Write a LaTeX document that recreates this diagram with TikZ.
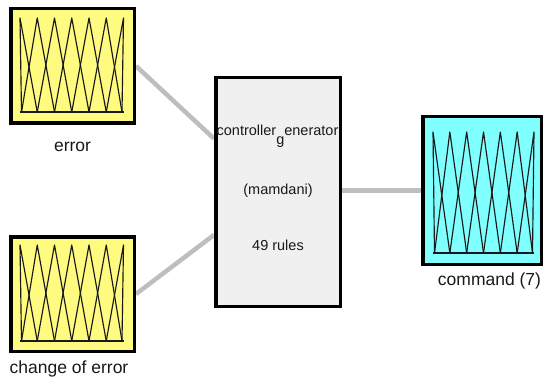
\documentclass[tikz,border=0pt]{standalone}
\usepackage{fontspec}
\setmainfont{Liberation Sans}
\usetikzlibrary{calc,backgrounds}

\definecolor{inyellow}{RGB}{255,250,128}
\definecolor{outcyan}{RGB}{128,255,255}
\definecolor{rulegray}{RGB}{240,240,240}
\definecolor{linkgray}{RGB}{190,190,190}
\definecolor{txtdark}{RGB}{25,25,25}

% Seven triangular membership functions between two peak positions
% #1 first peak x, #2 last peak x, #3 peak y, #4 base y
\newcommand{\mffan}[4]{%
  \pgfmathsetmacro{\mfstep}{(#2-#1)/6}
  \draw[mfline] (#1,#4) -- (#2,#4);
  \foreach \i in {0,...,6} {
    \pgfmathsetmacro{\px}{#1+\i*\mfstep}
    \pgfmathsetmacro{\lx}{max(#1+1.5,\px-\mfstep)}
    \pgfmathsetmacro{\rx}{min(#2-1.5,\px+\mfstep)}
    \draw[mfline] (\lx,#4) -- (\px,#3) -- (\rx,#4);
  }
}

\begin{document}
\begin{tikzpicture}[x=1pt,y=-1pt,
  fisbox/.style={draw=black, line width=3.5pt, inner sep=0pt},
  mfline/.style={draw=black!90, line width=1.15pt, line join=round},
  link/.style={draw=linkgray, line width=4.5pt},
  lab/.style={anchor=base, inner sep=0pt, text=txtdark,
    font=\fontsize{17.5}{20}\selectfont},
  midtxt/.style={anchor=base, inner sep=0pt, text=txtdark,
    font=\fontsize{14.5}{17}\selectfont}]

\useasboundingbox (0,0) rectangle (545,379);

% input and output variable boxes, rule block
\node[fisbox, fill=inyellow, minimum width=123.5pt, minimum height=114.5pt]
  (err) at (72.5,66) {};
\node[fisbox, fill=inyellow, minimum width=123.5pt, minimum height=114.5pt]
  (chg) at (72.5,294) {};
\node[fisbox, fill=rulegray, minimum width=124.5pt, minimum height=228.5pt]
  (mid) at (278,192) {};
\node[fisbox, fill=outcyan, minimum width=118.5pt, minimum height=147.5pt]
  (out) at (482,190.5) {};

% membership functions
\mffan{20}{123.5}{18}{112}
\mffan{20}{123.5}{245}{341}
\mffan{433}{534}{132}{253}

% connectors
\begin{scope}[on background layer]
  \draw[link] (err.east) -- ($(mid.north west)!0.27!(mid.south west)$);
  \draw[link] (chg.east) -- ($(mid.north west)!0.685!(mid.south west)$);
  \draw[link] (out.west -| mid.east) -- (out.west);
\end{scope}

% labels
\node[lab] (errlab) at (72.5,152) {error};
\node[lab] (chglab) at (69,373) {change of error};
\node[lab] (outlab) at (489.5,285) {command (7)};

\node[midtxt] (mname) at (277.5,136) {controller\raisebox{-1.05ex}{g}enerator};
\node[midtxt] (mtype) at (278,195) {(mamdani)};
\node[midtxt] (mrules) at (278,250) {49 rules};

\end{tikzpicture}
\end{document}
